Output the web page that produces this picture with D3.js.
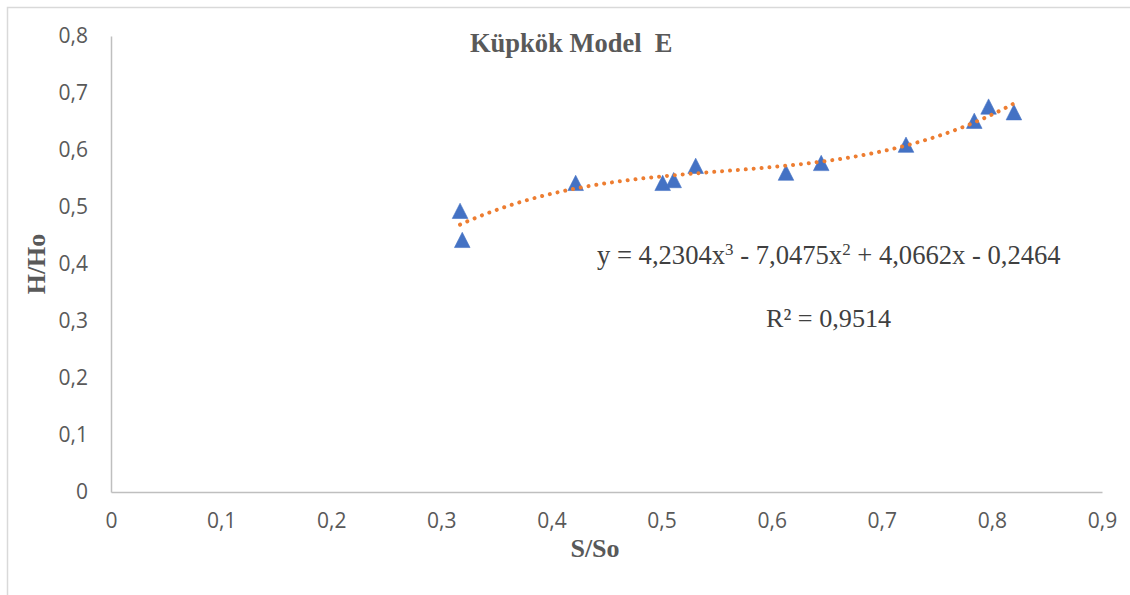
<!DOCTYPE html>
<html>
<head>
<meta charset="utf-8">
<script src="https://cdn.jsdelivr.net/npm/d3@7"></script>
<style>
  html, body { margin: 0; padding: 0; background: #fff; }
  svg { display: block; }
</style>
</head>
<body>
<svg id="chart" width="1130" height="595"></svg>
<script>
// Measured relative spread S/So and relative height H/Ho
const sRatio = [0.317, 0.319, 0.422, 0.501, 0.511, 0.531, 0.613, 0.645, 0.722, 0.784, 0.797, 0.820];
const hRatio = [0.493, 0.442, 0.542, 0.542, 0.547, 0.572, 0.560, 0.577, 0.609, 0.651, 0.676, 0.666];

// Cubic trend line coefficients (x^3, x^2, x, constant) and fit quality
const trendCoef = [4.2304, -7.0475, 4.0662, -0.2464];
const rSquared = 0.9514;

const xTicks = [0, 0.1, 0.2, 0.3, 0.4, 0.5, 0.6, 0.7, 0.8, 0.9];
const yTicks = [0, 0.1, 0.2, 0.3, 0.4, 0.5, 0.6, 0.7, 0.8];

const chartTitle = "Küpkök Model  E";
const xTitle = "S/So";
const yTitle = "H/Ho";

const svg = d3.select("#chart");
const comma = v => String(v).replace(".", ",");

// outer chart frame
svg.append("rect")
  .attr("x", 7.5).attr("y", 7.5)
  .attr("width", 1140).attr("height", 600)
  .attr("fill", "#fff").attr("stroke", "#D9D9D9").attr("stroke-width", 1.5);

const x = d3.scaleLinear().domain([0, 0.9]).range([111, 1102]);
const y = d3.scaleLinear().domain([0, 0.8]).range([492, 36]);

const tickFont = "'Open Sans', 'DejaVu Sans', sans-serif";

// y axis
const yAxis = svg.append("g")
  .attr("transform", `translate(${x(0)},0)`)
  .call(d3.axisLeft(y).tickValues(yTicks).tickSize(0).tickPadding(23).tickFormat(comma));
yAxis.select(".domain").attr("stroke", "#BFBFBF").attr("stroke-width", 1.5);
yAxis.selectAll("text")
  .attr("font-family", tickFont).attr("font-size", 21).attr("fill", "#595959");

// x axis
const xAxis = svg.append("g")
  .attr("transform", `translate(0,${y(0)})`)
  .call(d3.axisBottom(x).tickValues(xTicks).tickSize(0).tickPadding(21).tickFormat(comma));
xAxis.select(".domain").attr("stroke", "#BFBFBF").attr("stroke-width", 1.5);
xAxis.selectAll("text")
  .attr("font-family", tickFont).attr("font-size", 21).attr("fill", "#595959");

// data markers
const tri = "M0,-7.8L7.8,7.5L-7.8,7.5Z";
svg.append("g").selectAll("path")
  .data(sRatio.map((s, i) => [s, hRatio[i]]))
  .join("path")
  .attr("d", tri)
  .attr("transform", d => `translate(${x(d[0])},${y(d[1])})`)
  .attr("fill", "#4472C4")
  .attr("stroke", "#4472C4").attr("stroke-width", 0.6);

// polynomial trend line over the data range
const poly = v => trendCoef[0] * v * v * v + trendCoef[1] * v * v + trendCoef[2] * v + trendCoef[3];
const xMin = d3.min(sRatio), xMax = d3.max(sRatio);
const curve = d3.range(0, 201).map(i => {
  const v = xMin + (xMax - xMin) * i / 200;
  return [v, poly(v)];
});
svg.append("path")
  .datum(curve)
  .attr("d", d3.line().x(d => x(d[0])).y(d => y(d[1])))
  .attr("fill", "none")
  .attr("stroke", "#ED7D31")
  .attr("stroke-width", 4)
  .attr("stroke-linecap", "round")
  .attr("stroke-dasharray", "0.01 7.9");

const serif = "'Liberation Serif', 'Times New Roman', serif";

// title
svg.append("text")
  .attr("x", 470).attr("y", 52)
  .attr("font-family", serif).attr("font-weight", "bold").attr("font-size", 26.5)
  .attr("fill", "#595959")
  .style("white-space", "pre")
  .text(chartTitle);

// axis titles
svg.append("text")
  .attr("x", 595).attr("y", 557)
  .attr("text-anchor", "middle")
  .attr("font-family", serif).attr("font-weight", "bold").attr("font-size", 26)
  .attr("fill", "#595959")
  .text(xTitle);

svg.append("text")
  .attr("transform", "translate(45,264) rotate(-90)")
  .attr("text-anchor", "middle")
  .attr("font-family", serif).attr("font-weight", "bold").attr("font-size", 26)
  .attr("fill", "#595959")
  .text(yTitle);

// trend line equation and R²
const fmt = v => comma(Math.abs(v));
const eqSize = 26.6;
const eq = svg.append("text")
  .attr("x", 597).attr("y", 264)
  .attr("font-family", serif).attr("font-size", eqSize)
  .attr("fill", "#404040");
const sign = v => (v < 0 ? " - " : " + ");
eq.append("tspan").text(`y = ${fmt(trendCoef[0])}x`);
eq.append("tspan").attr("font-size", 17).attr("dy", -9).text("3");
eq.append("tspan").attr("dy", 9).text(`${sign(trendCoef[1])}${fmt(trendCoef[1])}x`);
eq.append("tspan").attr("font-size", 17).attr("dy", -9).text("2");
eq.append("tspan").attr("dy", 9)
  .text(`${sign(trendCoef[2])}${fmt(trendCoef[2])}x${sign(trendCoef[3])}${fmt(trendCoef[3])}`);
eq.style("white-space", "pre");

svg.append("text")
  .attr("x", 766).attr("y", 327)
  .attr("font-family", serif).attr("font-size", 26.2)
  .attr("fill", "#404040")
  .text(`R² = ${comma(rSquared)}`);
</script>
</body>
</html>
